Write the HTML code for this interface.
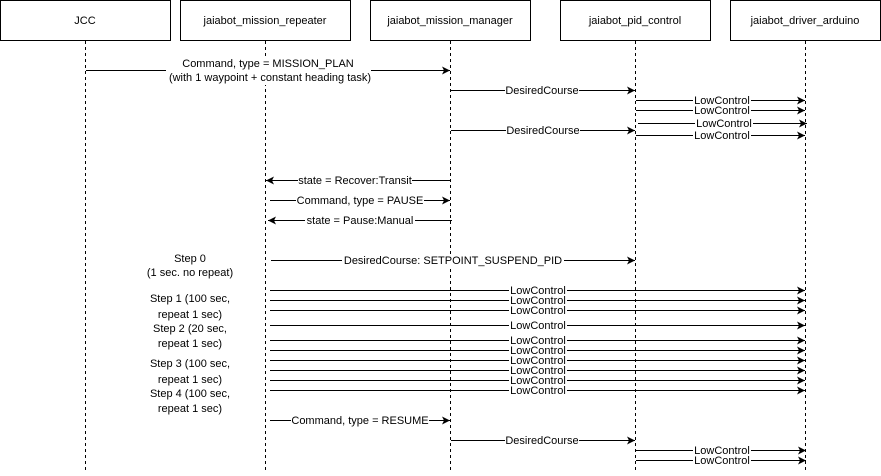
<!DOCTYPE html>
<html><head><style>
html,body{margin:0;padding:0;background:#fff;}
svg text{font-family:"Liberation Sans",Arial,sans-serif;font-size:11px;fill:#000;}
</style></head><body>
<svg width="881" height="471" viewBox="0 0 881 471" xmlns="http://www.w3.org/2000/svg">
<defs>
<marker id="a" markerWidth="10" markerHeight="10" refX="8" refY="4" orient="auto" markerUnits="userSpaceOnUse">
<path d="M0,0 L8,4 L0,8 L2,4 Z" fill="#000"/>
</marker>
</defs>
<g fill="#fff" stroke="#000" stroke-width="1">
<rect x="0.5" y="0.5" width="170" height="40"/>
<rect x="180.5" y="0.5" width="170" height="40"/>
<rect x="370.5" y="0.5" width="160" height="40"/>
<rect x="560.5" y="0.5" width="150" height="40"/>
<rect x="730.5" y="0.5" width="150" height="40"/>
</g>
<g text-anchor="middle">
<text x="85" y="24">JCC</text>
<text x="265" y="24">jaiabot_mission_repeater</text>
<text x="450" y="24">jaiabot_mission_manager</text>
<text x="635" y="24">jaiabot_pid_control</text>
<text x="805" y="24">jaiabot_driver_arduino</text>
</g>
<g stroke="#000" stroke-dasharray="3,3">
<line x1="85.5" y1="41" x2="85.5" y2="471"/>
<line x1="265.5" y1="41" x2="265.5" y2="471"/>
<line x1="450.5" y1="41" x2="450.5" y2="471"/>
<line x1="635.5" y1="41" x2="635.5" y2="471"/>
<line x1="805.5" y1="41" x2="805.5" y2="471"/>
</g>
<g stroke="#000" stroke-width="1" marker-end="url(#a)">
<line x1="86" y1="70.5" x2="450" y2="70.5"/>
<line x1="451" y1="90.5" x2="635" y2="90.5"/>
<line x1="636" y1="100.5" x2="805" y2="100.5"/>
<line x1="636" y1="110.5" x2="805" y2="110.5"/>
<line x1="638" y1="123.5" x2="807" y2="123.5"/>
<line x1="636" y1="135.5" x2="805" y2="135.5"/>
<line x1="451" y1="130.5" x2="635" y2="130.5"/>
<line x1="450" y1="180.5" x2="266" y2="180.5"/>
<line x1="270" y1="200.5" x2="450" y2="200.5"/>
<line x1="452" y1="220.5" x2="268" y2="220.5"/>
<line x1="271" y1="260.5" x2="635" y2="260.5"/>
<line x1="270" y1="290.5" x2="805" y2="290.5"/>
<line x1="270" y1="300.5" x2="805" y2="300.5"/>
<line x1="270" y1="310.5" x2="805" y2="310.5"/>
<line x1="270" y1="325.5" x2="805" y2="325.5"/>
<line x1="270" y1="340.5" x2="805" y2="340.5"/>
<line x1="270" y1="350.5" x2="805" y2="350.5"/>
<line x1="270" y1="360.5" x2="805" y2="360.5"/>
<line x1="270" y1="370.5" x2="805" y2="370.5"/>
<line x1="270" y1="380.5" x2="805" y2="380.5"/>
<line x1="270" y1="390.5" x2="805" y2="390.5"/>
<line x1="270" y1="420.5" x2="450" y2="420.5"/>
<line x1="451" y1="440.5" x2="635" y2="440.5"/>
<line x1="636" y1="450.5" x2="806" y2="450.5"/>
<line x1="636" y1="460.5" x2="806" y2="460.5"/>
</g>
<g fill="#fff">
<rect x="166" y="57" width="205" height="28"/>
<rect x="505" y="85" width="74" height="11"/>
<rect x="693" y="96" width="58" height="10"/>
<rect x="693" y="106" width="58" height="10"/>
<rect x="695" y="118" width="58" height="11"/>
<rect x="693" y="131" width="58" height="10"/>
<rect x="506" y="125" width="74" height="11"/>
<rect x="298" y="175" width="114" height="11"/>
<rect x="296" y="195" width="128" height="11"/>
<rect x="305" y="215" width="110" height="11"/>
<rect x="342" y="255" width="222" height="11"/>
<rect x="509" y="285" width="58" height="10"/>
<rect x="509" y="295" width="58" height="10"/>
<rect x="509" y="305" width="58" height="10"/>
<rect x="509" y="320" width="58" height="10"/>
<rect x="509" y="335" width="58" height="10"/>
<rect x="509" y="345" width="58" height="10"/>
<rect x="509" y="355" width="58" height="10"/>
<rect x="509" y="365" width="58" height="10"/>
<rect x="509" y="375" width="58" height="10"/>
<rect x="509" y="385" width="58" height="10"/>
<rect x="291" y="415" width="138" height="11"/>
<rect x="505" y="435" width="74" height="11"/>
<rect x="693" y="445" width="58" height="10"/>
<rect x="693" y="455" width="58" height="10"/>
</g>
<g text-anchor="middle">
<text x="268" y="67">Command, type = MISSION_PLAN</text>
<text x="270" y="81">(with 1 waypoint + constant heading task)</text>
<text x="542" y="94">DesiredCourse</text>
<text x="722" y="104">LowControl</text>
<text x="722" y="114">LowControl</text>
<text x="724" y="127">LowControl</text>
<text x="722" y="139">LowControl</text>
<text x="543" y="134">DesiredCourse</text>
<text x="355" y="184">state = Recover:Transit</text>
<text x="360" y="204">Command, type = PAUSE</text>
<text x="360" y="224">state = Pause:Manual</text>
<text x="453" y="264">DesiredCourse: SETPOINT_SUSPEND_PID</text>
<text x="538" y="294">LowControl</text>
<text x="538" y="304">LowControl</text>
<text x="538" y="314">LowControl</text>
<text x="538" y="329">LowControl</text>
<text x="538" y="344">LowControl</text>
<text x="538" y="354">LowControl</text>
<text x="538" y="364">LowControl</text>
<text x="538" y="374">LowControl</text>
<text x="538" y="384">LowControl</text>
<text x="538" y="394">LowControl</text>
<text x="360" y="424">Command, type = RESUME</text>
<text x="542" y="444">DesiredCourse</text>
<text x="722" y="454">LowControl</text>
<text x="722" y="464">LowControl</text>
<text x="190" y="262">Step 0</text>
<text x="190" y="276">(1 sec. no repeat)</text>
<text x="190" y="302">Step 1 (100 sec,</text>
<text x="190" y="318">repeat 1 sec)</text>
<text x="190" y="332">Step 2 (20 sec,</text>
<text x="190" y="347">repeat 1 sec)</text>
<text x="190" y="367">Step 3 (100 sec,</text>
<text x="190" y="383">repeat 1 sec)</text>
<text x="190" y="397">Step 4 (100 sec,</text>
<text x="190" y="412">repeat 1 sec)</text>
</g>
</svg>
</body></html>
